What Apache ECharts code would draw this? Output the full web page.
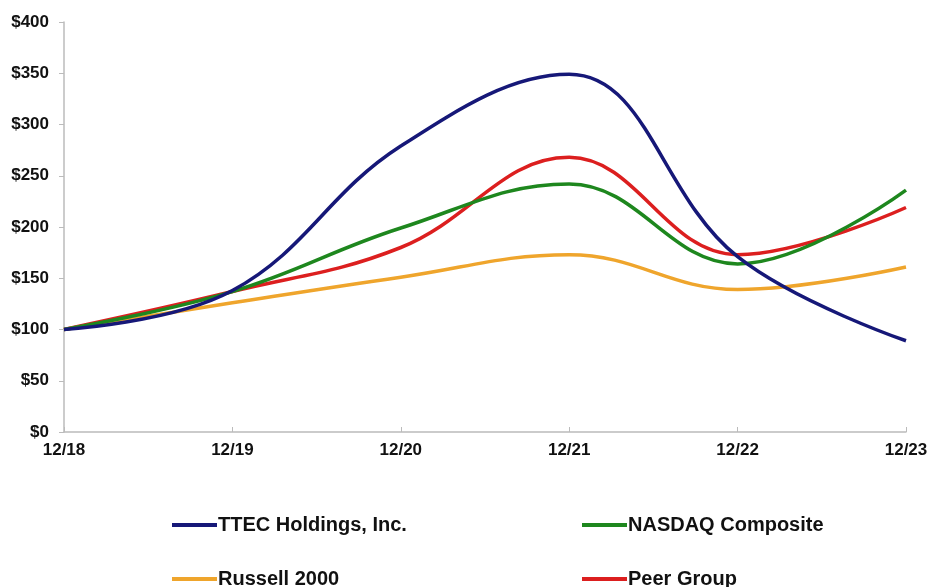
<!DOCTYPE html>
<html>
<head>
<meta charset="utf-8">
<script src="https://cdn.jsdelivr.net/npm/echarts@6/dist/echarts.min.js"></script>
<style>html,body{margin:0;padding:0;background:#fff}#c{width:928px;height:587px}</style>
</head>
<body>
<div id="c"></div>
<script>
const categories = ['12/18','12/19','12/20','12/21','12/22','12/23'];
const ttec = [100, 138, 279, 349, 171, 89];
const nasdaq = [100, 137, 199, 242, 164, 236];
const russell = [100, 126, 151, 173, 139, 161];
const peer = [100, 137, 180, 268, 173, 219];
const yTicks = [0, 50, 100, 150, 200, 250, 300, 350, 400];

const names = ['TTEC Holdings, Inc.', 'NASDAQ Composite', 'Russell 2000', 'Peer Group'];
const colors = ['#161878', '#1e871e', '#efa52c', '#dc1f1f'];
const data = [ttec, nasdaq, russell, peer];

const chart = echarts.init(document.getElementById('c'));
const font = {fontFamily: 'Liberation Sans, Arial, sans-serif', fontWeight: 'bold', color: '#111', fontSize: 17};
const legendPos = [[172, 515], [582, 515], [172, 569], [582, 569]];
chart.setOption({
  animation: false,
  grid: {left: 64, right: 22, top: 22, bottom: 155, outerBoundsMode: 'none', containLabel: false},
  xAxis: {
    type: 'category', data: categories, boundaryGap: false,
    axisLine: {lineStyle: {color: '#bbb', width: 1.5}},
    axisTick: {inside: true, length: 5, lineStyle: {color: '#bbb'}},
    axisLabel: Object.assign({margin: 10}, font),
    splitLine: {show: false}
  },
  yAxis: {
    type: 'value', min: yTicks[0], max: yTicks[yTicks.length - 1], interval: 50,
    axisLine: {show: true, lineStyle: {color: '#bbb', width: 1.5}},
    axisTick: {show: true, length: 5, lineStyle: {color: '#bbb'}},
    axisLabel: Object.assign({margin: 15, formatter: v => '$' + v}, font),
    splitLine: {show: false}
  },
  legend: names.map((n, i) => ({
    data: [n], left: legendPos[i][0], top: legendPos[i][1], padding: 0,
    icon: 'rect', itemWidth: 45, itemHeight: 4, itemGap: 0,
    textStyle: Object.assign({}, font, {fontSize: 20, padding: [0, 0, 0, -4]})
  })),
  series: names.map((n, i) => ({
    name: n, type: 'line', data: data[i], smooth: 0.4, showSymbol: false,
    lineStyle: {color: colors[i], width: 3.5}, itemStyle: {color: colors[i]}, z: 4 - i
  }))
});
</script>
</body>
</html>
